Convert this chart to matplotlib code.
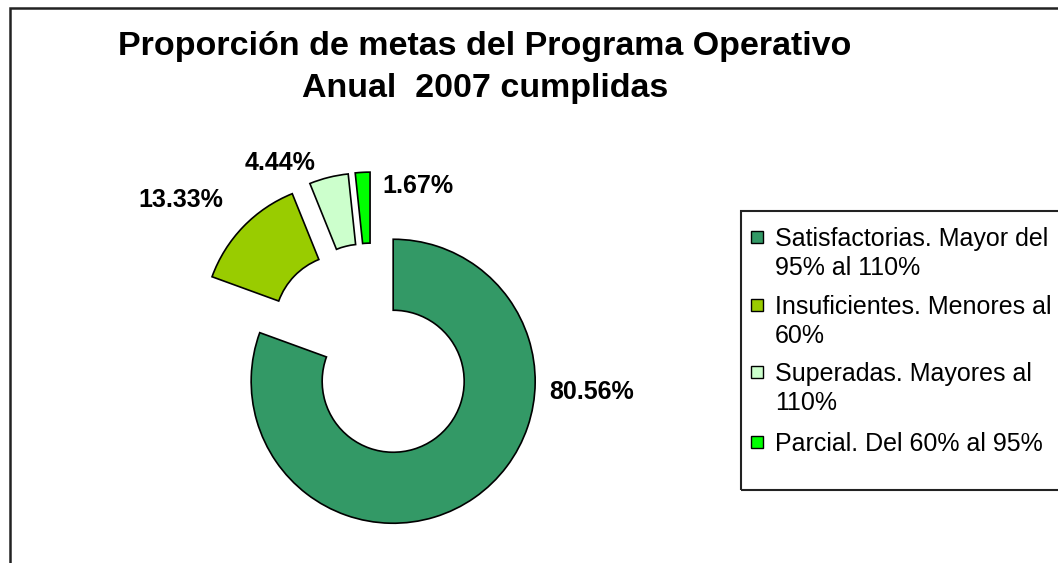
import matplotlib.pyplot as plt
from matplotlib.patches import Rectangle

# datos
categorias = ['Satisfactorias. Mayor del\n95% al 110%',
              'Insuficientes. Menores al\n60%',
              'Superadas. Mayores al\n110%',
              'Parcial. Del 60% al 95%']
porcentajes = [80.56, 13.33, 4.44, 1.67]
etiquetas = ['80.56%', '13.33%', '4.44%', '1.67%']
colores = ['#339966', '#99CC00', '#CCFFCC', '#00FF00']

plt.rcParams['font.family'] = ['Liberation Sans', 'DejaVu Sans']

W, H = 1058, 563
R = 142            # pixels per data unit (outer radius)
cx, cy = 372, 351  # pie centre in pixels (from top-left)

fig = plt.figure(figsize=(W / 100, H / 100), dpi=100)
ax = fig.add_axes([0, 0, 1, 1])
ax.pie(porcentajes, colors=colores, startangle=90, counterclock=False,
       radius=1, explode=[0.26] * len(porcentajes),
       wedgeprops=dict(width=0.5, edgecolor='black', linewidth=1.2))
ax.set_aspect('auto')
ax.set_xlim(-cx / R, (W - cx) / R)
ax.set_ylim(-(H - cy) / R, cy / R)
ax.axis('off')


def fx(px):
    return px / W


def fy(py):
    return 1 - py / H


# data labels (pixel positions of text centres)
pos_etiquetas = [(592, 392), (181, 200), (280, 163), (418, 186)]
for txt, (px, py) in zip(etiquetas, pos_etiquetas):
    fig.text(fx(px), fy(py), txt, ha='center', va='center',
             fontsize=18, fontweight='bold')

# title
fig.text(fx(485), fy(46), 'Proporción de metas del Programa Operativo',
         ha='center', va='center', fontsize=24.5, fontweight='bold')
fig.text(fx(485), fy(89), 'Anual  2007 cumplidas',
         ha='center', va='center', fontsize=24.5, fontweight='bold')

# chart area border (clipped at right/bottom)
fig.add_artist(Rectangle((fx(10), -0.1), 1.2, fy(8) + 0.1,
                         transform=fig.transFigure, fill=False,
                         edgecolor='#222222', linewidth=1.8))

# legend box
fig.add_artist(Rectangle((fx(741), fy(490)), 0.5, (490 - 211) / H,
                         transform=fig.transFigure, fill=False,
                         edgecolor='#222222', linewidth=1.5))
lineas_y = [237, 305, 372, 442]
paso = 29
for lab, col, ly in zip(categorias, colores, lineas_y):
    fig.add_artist(Rectangle((fx(751), fy(ly + 6)), 12 / W, 12 / H,
                             transform=fig.transFigure, facecolor=col,
                             edgecolor='black', linewidth=1.0))
    for i, linea in enumerate(lab.split('\n')):
        fig.text(fx(775), fy(ly + 9 + i * paso), linea, ha='left',
                 va='baseline', fontsize=18)

fig.savefig('out.png', dpi=100, facecolor='white')
